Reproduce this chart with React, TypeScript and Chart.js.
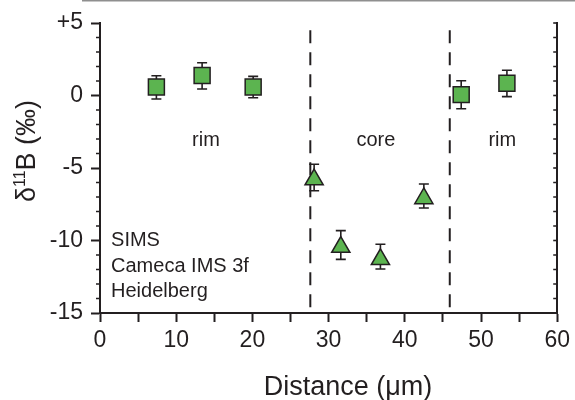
import React, { useEffect, useRef } from 'react';
import { Chart, registerables } from 'chart.js';

Chart.register(...registerables);

// ---------- data ----------
const squareX = [7.4, 13.4, 20.1, 47.4, 53.4];
const squareY = [0.59, 1.38, 0.59, 0.06, 0.85];
const squareLow = [-0.24, 0.45, -0.15, -0.91, -0.08];
const squareHigh = [1.36, 2.26, 1.32, 1.02, 1.74];

const triX = [28.1, 31.6, 36.8, 42.5];
const triY = [-5.8, -10.45, -11.3, -7.1];
const triLow = [-6.57, -11.3, -11.97, -7.76];
const triHigh = [-4.74, -9.32, -10.26, -6.1];

const boundaryX = [27.6, 45.9];
const boundaryTop = 4.5;

const zoneLabels = ['rim', 'core', 'rim'];
const zoneLabelX = [13.9, 36.2, 52.8];
const zoneLabelY = -3.5;

const noteLines = ['SIMS', 'Cameca IMS 3f', 'Heidelberg'];
const noteX = 1.45;
const noteY = -10.4;

const xTickValues = [0, 10, 20, 30, 40, 50, 60];
const xTickLabels = ['0', '10', '20', '30', '40', '50', '60'];
const yTickValues = [-15, -10, -5, 0, 5];
const yTickLabels = ['-15', '-10', '-5', '0', '+5'];

const xMin = 0, xMax = 60, yMin = -15, yMax = 5;
const xTitle = 'Distance (μm)';

// ---------- styles ----------
const INK = '#231f20';
const GREEN = '#5cb450';
const FONT = "'Liberation Sans', Arial, Helvetica, sans-serif";

const errorBarPlugin = {
  id: 'errorBars',
  beforeDatasetsDraw(chart: any) {
    const { ctx } = chart;
    const xs = chart.scales.x;
    const ys = chart.scales.y;
    const draw = (X: number[], L: number[], H: number[]) => {
      X.forEach((xv, i) => {
        const px = xs.getPixelForValue(xv);
        const pl = ys.getPixelForValue(L[i]);
        const ph = ys.getPixelForValue(H[i]);
        ctx.beginPath();
        ctx.moveTo(px, pl);
        ctx.lineTo(px, ph);
        ctx.moveTo(px - 5, pl);
        ctx.lineTo(px + 5, pl);
        ctx.moveTo(px - 5, ph);
        ctx.lineTo(px + 5, ph);
        ctx.stroke();
      });
    };
    ctx.save();
    ctx.strokeStyle = INK;
    ctx.lineWidth = 1.6;
    draw(squareX, squareLow, squareHigh);
    draw(triX, triLow, triHigh);
    ctx.restore();
  },
};

const decorPlugin = {
  id: 'decor',
  afterDraw(chart: any) {
    const { ctx, chartArea } = chart;
    const xs = chart.scales.x;
    const ys = chart.scales.y;
    ctx.save();
    // thin grey strip at the very top (edge of the source figure)
    ctx.strokeStyle = '#8f8f8f';
    ctx.lineWidth = 1.5;
    ctx.beginPath();
    ctx.moveTo(82, 0.75);
    ctx.lineTo(575, 0.75);
    ctx.stroke();

    // minor ticks
    ctx.strokeStyle = INK;
    ctx.lineWidth = 1.6;
    for (let v = yMin; v <= yMax; v++) {
      const py = ys.getPixelForValue(v);
      ctx.beginPath();
      if (v % 5 !== 0) {
        ctx.moveTo(chartArea.left - 4, py);
        ctx.lineTo(chartArea.left, py);
      }
      if (v !== yMin) {
        ctx.moveTo(chartArea.right, py);
        ctx.lineTo(chartArea.right - 4, py);
      }
      ctx.stroke();
    }

    // zone labels
    ctx.fillStyle = INK;
    ctx.font = `20px ${FONT}`;
    ctx.textAlign = 'center';
    ctx.textBaseline = 'alphabetic';
    zoneLabels.forEach((t, i) => {
      ctx.fillText(t, xs.getPixelForValue(zoneLabelX[i]), ys.getPixelForValue(zoneLabelY));
    });

    // note
    ctx.textAlign = 'left';
    const nx = xs.getPixelForValue(noteX);
    const ny = ys.getPixelForValue(noteY);
    noteLines.forEach((t, i) => ctx.fillText(t, nx, ny + i * 25.5));

    // x title
    ctx.font = `27px ${FONT}`;
    ctx.textAlign = 'center';
    ctx.fillText(xTitle, 348, 395);

    // y title  δ¹¹B (‰)
    ctx.save();
    ctx.translate(25, 151);
    ctx.rotate(-Math.PI / 2);
    ctx.textAlign = 'left';
    const big = `27px ${FONT}`;
    const small = `16px ${FONT}`;
    ctx.font = big;
    const w1 = ctx.measureText('δ').width;
    const w3 = ctx.measureText('B (‰)').width;
    ctx.font = small;
    const w2 = ctx.measureText('11').width;
    const total = w1 + w2 + w3;
    let x0 = -total / 2;
    const base = 10;
    ctx.font = big;
    ctx.fillText('δ', x0, base);
    x0 += w1;
    ctx.font = small;
    ctx.fillText('11', x0, base - 10);
    x0 += w2;
    ctx.font = big;
    ctx.fillText('B (‰)', x0, base);
    ctx.restore();

    ctx.restore();
  },
};

export default function App() {
  const ref = useRef<HTMLCanvasElement>(null);

  useEffect(() => {
    const canvas = ref.current;
    if (!canvas) return;
    const chart = new Chart(canvas, {
      type: 'scatter',
      data: {
        datasets: [
          {
            label: 'rim',
            data: squareX.map((x, i) => ({ x, y: squareY[i] })),
            pointStyle: 'rect',
            pointRadius: 11.3,
            pointHoverRadius: 11.3,
            backgroundColor: GREEN,
            borderColor: INK,
            borderWidth: 1.5,
            yAxisID: 'y',
            clip: false,
          },
          {
            label: 'core',
            data: triX.map((x, i) => ({ x, y: triY[i] })),
            pointStyle: 'triangle',
            pointRadius: 10.5,
            pointHoverRadius: 10.5,
            backgroundColor: GREEN,
            borderColor: INK,
            borderWidth: 1.5,
            yAxisID: 'y',
            clip: false,
          },
          ...boundaryX.map((bx) => ({
            label: 'boundary',
            data: [
              { x: bx, y: boundaryTop },
              { x: bx, y: yMin },
            ],
            showLine: true,
            pointRadius: 0,
            borderColor: INK,
            borderWidth: 2,
            borderDash: [13, 9],
            fill: false,
            yAxisID: 'y',
          })),
        ] as any,
      },
      options: {
        responsive: false,
        animation: false,
        events: [],
        layout: { padding: { top: 23, left: 0, right: 0, bottom: 0 } },
        plugins: { legend: { display: false }, tooltip: { enabled: false } },
        scales: {
          x: {
            type: 'linear',
            position: 'bottom',
            min: xMin,
            max: xMax,
            ticks: {
              stepSize: 5,
              autoSkip: false,
              maxRotation: 0,
              color: INK,
              padding: 5,
              font: { family: FONT, size: 23 },
              callback: (v: any) => {
                const i = xTickValues.indexOf(Number(v));
                return i >= 0 ? xTickLabels[i] : '';
              },
            },
            grid: { drawOnChartArea: false, drawTicks: true, tickLength: 9, tickWidth: 2, tickColor: INK },
            border: { display: true, color: INK, width: 2 },
            afterFit: (s: any) => { s.height = 87; },
          },
          y: {
            type: 'linear',
            position: 'left',
            min: yMin,
            max: yMax,
            ticks: {
              stepSize: 5,
              color: INK,
              padding: 8,
              font: { family: FONT, size: 23 },
              callback: (v: any) => {
                const i = yTickValues.indexOf(Number(v));
                return i >= 0 ? yTickLabels[i] : '';
              },
            },
            grid: { drawOnChartArea: false, drawTicks: true, tickLength: 9, tickWidth: 2, tickColor: INK },
            border: { display: true, color: INK, width: 2 },
            afterFit: (s: any) => { s.width = 100; },
          },
          y2: {
            type: 'linear',
            position: 'right',
            min: yMin,
            max: yMax,
            ticks: { display: false, stepSize: 5 },
            grid: { drawOnChartArea: false, drawTicks: false },
            border: { display: true, color: INK, width: 2 },
            afterFit: (s: any) => { s.width = 14; },
          },
        },
      } as any,
      plugins: [errorBarPlugin, decorPlugin],
    });
    return () => chart.destroy();
  }, []);

  return (
    <canvas
      ref={ref}
      width={575}
      height={400}
      style={{ position: 'fixed', left: 0, top: 0, display: 'block', background: '#fff' }}
    />
  );
}
